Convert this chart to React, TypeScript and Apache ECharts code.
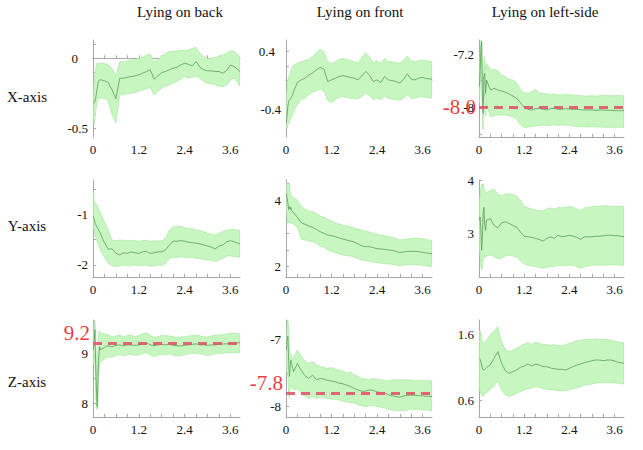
import React, { useEffect, useRef } from "react";
import * as echarts from "echarts";

// Shared time grid (s); dense at the start where the signals settle
const T = [0.01, 0.03, 0.05, 0.07, 0.09, 0.11, 0.13, 0.15, 0.175, 0.2,
  0.3, 0.4, 0.5, 0.6, 0.7, 0.8, 0.9, 1.0,
  1.1, 1.2, 1.3, 1.4, 1.5, 1.6, 1.7, 1.8, 1.9, 2.0,
  2.1, 2.2, 2.3, 2.4, 2.5, 2.6, 2.7, 2.8, 2.9, 3.0,
  3.1, 3.2, 3.3, 3.4, 3.5, 3.6, 3.7, 3.85];

const COLUMN_TITLES = ["Lying on back", "Lying on front", "Lying on left-side"];
const ROW_TITLES = ["X-axis", "Y-axis", "Z-axis"];
const X_LABELS = [0, 1.2, 2.4, 3.6];
const X_TICKS = [0, 0.3, 0.6, 0.9, 1.2, 1.5, 1.8, 2.1, 2.4, 2.7, 3.0, 3.3, 3.6];

// X-axis, lying on back
const backX_mean = [-0.32, -0.32, -0.31, -0.286, -0.25, -0.214, -0.18, -0.16, -0.155, -0.155,
  -0.16, -0.174, -0.226, -0.29, -0.143, -0.143, -0.136, -0.131,
  -0.126, -0.119, -0.107, -0.095, -0.083, -0.15, -0.126, -0.102, -0.095, -0.083,
  -0.071, -0.064, -0.048, -0.036, -0.043, -0.055, -0.024, -0.064, -0.083, -0.09,
  -0.09, -0.095, -0.095, -0.107, -0.088, -0.048, -0.06, -0.095];
const backX_hi = [-0.25, -0.155, -0.107, -0.071, -0.048, -0.036, -0.036, -0.036, -0.036, -0.036,
  -0.036, -0.048, -0.071, -0.131, -0.024, -0.024, -0.017, -0.012,
  -0.007, 0, 0.007, 0.024, 0.031, -0.024, -0.012, 0.017, 0.036, 0.048,
  0.048, 0.052, 0.06, 0.055, 0.06, 0.071, 0.079, 0.036, 0.012, 0,
  0, 0.007, 0.012, 0.024, 0.036, 0.055, 0.048, 0.012];
const backX_lo = [-0.44, -0.476, -0.44, -0.38, -0.345, -0.31, -0.298, -0.286, -0.286, -0.286,
  -0.286, -0.31, -0.405, -0.464, -0.262, -0.262, -0.255, -0.25,
  -0.245, -0.238, -0.226, -0.22, -0.207, -0.262, -0.238, -0.214, -0.202, -0.19,
  -0.179, -0.167, -0.15, -0.131, -0.143, -0.136, -0.131, -0.143, -0.167, -0.179,
  -0.183, -0.19, -0.202, -0.202, -0.19, -0.155, -0.143, -0.202];

// X-axis, lying on front
const frontX_mean = [-0.595, -0.48, -0.364, -0.29, -0.28, -0.26, -0.25, -0.225, -0.2, -0.156,
  -0.03, 0.006, 0.03, 0.076, 0.1, 0.145, 0.18, 0.155,
  -0.017, 0.006, 0.03, 0.053, 0.067, 0.053, 0.04, 0.03, 0.006, 0.062,
  0.122, 0.076, -0.017, 0.006, -0.03, 0.053, 0.006, -0.003, -0.017, -0.04,
  0.016, 0.09, 0.016, 0.006, 0.03, 0.04, 0.025, 0.016];
const frontX_hi = [-0.225, -0.11, 0.006, 0.053, 0.076, 0.1, 0.145, 0.169, 0.192, 0.215,
  0.238, 0.26, 0.275, 0.293, 0.33, 0.386, 0.432, 0.4,
  0.26, 0.238, 0.26, 0.293, 0.307, 0.293, 0.275, 0.26, 0.238, 0.32,
  0.386, 0.33, 0.247, 0.275, 0.238, 0.307, 0.26, 0.26, 0.247, 0.238,
  0.284, 0.34, 0.275, 0.26, 0.275, 0.284, 0.275, 0.26];
const frontX_lo = [-0.69, -0.665, -0.62, -0.595, -0.57, -0.55, -0.526, -0.5, -0.48, -0.433,
  -0.34, -0.27, -0.25, -0.2, -0.17, -0.146, -0.123, -0.156,
  -0.28, -0.308, -0.27, -0.24, -0.225, -0.24, -0.25, -0.253, -0.262, -0.225,
  -0.18, -0.216, -0.27, -0.25, -0.27, -0.225, -0.25, -0.262, -0.27, -0.28,
  -0.25, -0.2, -0.25, -0.25, -0.234, -0.225, -0.24, -0.25];

// X-axis, lying on left side
const leftX_mean = [-7.69, -7.44, -7.14, -7.015, -7.84, -8.09, -7.54, -7.49, -7.79, -7.59,
  -7.74, -7.715, -7.74, -7.755, -7.775, -7.8, -7.83, -7.865,
  -7.93, -8.0, -8.03, -8.04, -8.02, -8.015, -8.03, -8.04, -8.02, -8.015,
  -8.03, -8.03, -8.02, -8.025, -8.03, -8.03, -8.035, -8.04, -8.04, -8.04,
  -8.045, -8.04, -8.04, -8.045, -8.045, -8.05, -8.05, -8.05];
const leftX_hi = [-7.49, -7.19, -6.99, -6.965, -7.44, -7.59, -7.29, -7.24, -7.44, -7.34,
  -7.43, -7.43, -7.45, -7.515, -7.54, -7.58, -7.59, -7.63,
  -7.73, -7.78, -7.79, -7.765, -7.73, -7.78, -7.79, -7.8, -7.805, -7.8,
  -7.815, -7.815, -7.805, -7.81, -7.82, -7.82, -7.825, -7.83, -7.83, -7.825,
  -7.83, -7.825, -7.82, -7.825, -7.825, -7.825, -7.82, -7.83];
const leftX_lo = [-7.94, -7.74, -7.39, -7.29, -8.24, -8.34, -7.89, -7.79, -8.14, -7.94,
  -8.14, -8.13, -8.115, -8.115, -8.115, -8.13, -8.15, -8.18,
  -8.265, -8.3, -8.3, -8.29, -8.28, -8.275, -8.265, -8.275, -8.27, -8.265,
  -8.27, -8.27, -8.265, -8.27, -8.28, -8.29, -8.29, -8.29, -8.295, -8.29,
  -8.295, -8.295, -8.3, -8.3, -8.3, -8.3, -8.3, -8.3];

// Y-axis, lying on back
const backY_mean = [-1.046, -1.1, -1.16, -1.2, -1.23, -1.26, -1.28, -1.31, -1.35, -1.39,
  -1.56, -1.69, -1.68, -1.77, -1.8, -1.76, -1.77, -1.74,
  -1.76, -1.77, -1.74, -1.73, -1.77, -1.76, -1.74, -1.74, -1.7, -1.605,
  -1.53, -1.53, -1.52, -1.53, -1.55, -1.56, -1.57, -1.585, -1.605, -1.625,
  -1.65, -1.68, -1.625, -1.605, -1.54, -1.52, -1.54, -1.585];
const backY_hi = [-0.55, -0.72, -0.77, -0.78, -0.8, -0.835, -0.86, -0.9, -0.94, -0.98,
  -1.145, -1.31, -1.51, -1.52, -1.51, -1.51, -1.52, -1.51,
  -1.52, -1.53, -1.52, -1.51, -1.53, -1.52, -1.525, -1.52, -1.47, -1.31,
  -1.24, -1.24, -1.24, -1.26, -1.28, -1.28, -1.31, -1.32, -1.34, -1.375,
  -1.39, -1.41, -1.375, -1.34, -1.31, -1.3, -1.3, -1.32];
const backY_lo = [-1.28, -1.34, -1.41, -1.45, -1.51, -1.54, -1.585, -1.625, -1.67, -1.72,
  -1.85, -1.97, -2.01, -2.03, -2.02, -2.0, -2.01, -2.01,
  -2.0, -2.02, -2.01, -2.0, -2.03, -2.02, -2.0, -2.01, -1.97, -1.87,
  -1.85, -1.85, -1.835, -1.85, -1.85, -1.855, -1.87, -1.875, -1.89, -1.9,
  -1.91, -1.93, -1.9, -1.87, -1.82, -1.82, -1.835, -1.85];

// Y-axis, lying on front
const frontY_mean = [4.2, 4.05, 3.9, 3.72, 3.8, 3.72, 3.78, 3.68, 3.65, 3.62,
  3.48, 3.32, 3.27, 3.22, 3.18, 3.12, 3.05, 3.0,
  2.95, 2.93, 2.9, 2.86, 2.83, 2.8, 2.77, 2.74, 2.68, 2.62,
  2.6, 2.6, 2.57, 2.54, 2.53, 2.52, 2.5, 2.49, 2.46, 2.42,
  2.44, 2.46, 2.46, 2.46, 2.45, 2.43, 2.41, 2.39];
const frontY_hi = [4.55, 4.5, 4.35, 4.45, 4.5, 4.25, 4.15, 4.12, 4.1, 4.07,
  4.0, 3.82, 3.72, 3.68, 3.65, 3.6, 3.52, 3.48,
  3.42, 3.38, 3.32, 3.28, 3.25, 3.22, 3.2, 3.16, 3.12, 3.1,
  3.07, 3.04, 3.0, 2.97, 2.95, 2.93, 2.9, 2.88, 2.85, 2.8,
  2.82, 2.84, 2.84, 2.85, 2.85, 2.84, 2.82, 2.78];
const frontY_lo = [3.7, 3.4, 3.3, 3.32, 3.35, 3.3, 3.3, 3.3, 3.28, 3.28,
  3.18, 2.82, 2.8, 2.78, 2.75, 2.7, 2.62, 2.58,
  2.5, 2.46, 2.42, 2.38, 2.35, 2.33, 2.32, 2.28, 2.24, 2.2,
  2.18, 2.16, 2.14, 2.12, 2.1, 2.09, 2.08, 2.07, 2.05, 2.02,
  2.04, 2.06, 2.06, 2.06, 2.05, 2.04, 2.02, 2.0];

// Y-axis, lying on left side
const leftY_mean = [3.25, 3.31, 3.06, 2.69, 2.94, 3.37, 3.49, 3.19, 3.06, 3.25,
  3.28, 3.15, 3.11, 3.2, 3.22, 3.19, 3.15, 3.12,
  3.03, 2.95, 2.94, 2.93, 2.91, 2.89, 2.86, 2.91, 2.94, 2.91,
  2.97, 2.94, 2.95, 2.97, 2.95, 2.93, 2.89, 2.94, 2.94, 2.94,
  2.95, 2.95, 2.96, 2.97, 2.97, 2.96, 2.96, 2.94];
const leftY_hi = [3.62, 3.74, 3.86, 3.93, 3.9, 3.93, 3.86, 3.8, 3.79, 3.77,
  3.8, 3.83, 3.74, 3.71, 3.74, 3.74, 3.73, 3.7,
  3.62, 3.51, 3.48, 3.46, 3.44, 3.43, 3.42, 3.46, 3.48, 3.46,
  3.49, 3.48, 3.49, 3.51, 3.49, 3.46, 3.43, 3.48, 3.49, 3.51,
  3.51, 3.51, 3.52, 3.52, 3.51, 3.51, 3.51, 3.51];
const leftY_lo = [2.75, 2.57, 2.38, 2.32, 2.38, 2.51, 2.6, 2.56, 2.56, 2.58,
  2.6, 2.57, 2.53, 2.54, 2.58, 2.6, 2.58, 2.56,
  2.49, 2.43, 2.41, 2.4, 2.38, 2.37, 2.35, 2.37, 2.38, 2.38,
  2.41, 2.4, 2.41, 2.41, 2.41, 2.38, 2.35, 2.38, 2.4, 2.41,
  2.41, 2.41, 2.41, 2.41, 2.42, 2.42, 2.41, 2.41];

// Z-axis, lying on back
const backZ_mean = [9.07, 9.27, 9.47, 8.73, 8.27, 7.93, 8.53, 8.93, 9.13, 9.07,
  9.12, 9.15, 9.13, 9.16, 9.17, 9.15, 9.17, 9.17,
  9.16, 9.17, 9.18, 9.21, 9.17, 9.15, 9.17, 9.18, 9.17, 9.18,
  9.16, 9.15, 9.15, 9.16, 9.17, 9.18, 9.19, 9.17, 9.17, 9.16,
  9.17, 9.17, 9.18, 9.19, 9.19, 9.2, 9.21, 9.21];
const backZ_hi = [9.27, 9.6, 9.67, 9.47, 8.87, 8.53, 9.07, 9.4, 9.45, 9.41,
  9.39, 9.37, 9.33, 9.35, 9.36, 9.33, 9.36, 9.37,
  9.33, 9.36, 9.39, 9.41, 9.36, 9.32, 9.33, 9.36, 9.35, 9.35,
  9.33, 9.32, 9.33, 9.33, 9.35, 9.35, 9.36, 9.35, 9.33, 9.33,
  9.35, 9.36, 9.37, 9.37, 9.39, 9.4, 9.4, 9.39];
const backZ_lo = [8.8, 8.87, 9.0, 8.13, 7.9, 7.87, 8.0, 8.53, 8.77, 8.83,
  8.88, 8.93, 8.92, 8.96, 8.97, 8.95, 8.97, 8.98,
  8.96, 8.97, 8.99, 9.01, 8.97, 8.93, 8.96, 8.98, 8.97, 8.99,
  8.96, 8.95, 8.95, 8.97, 8.99, 9.0, 9.0, 8.99, 8.97, 8.96,
  8.97, 8.99, 9.0, 9.0, 9.01, 9.01, 9.01, 9.01];

// Z-axis, lying on front
const frontZ_mean = [-7.16, -6.99, -6.95, -7.31, -7.55, -7.38, -7.31, -7.36, -7.43, -7.48,
  -7.36, -7.46, -7.54, -7.58, -7.53, -7.6, -7.58, -7.59,
  -7.61, -7.62, -7.63, -7.65, -7.66, -7.68, -7.7, -7.73, -7.75, -7.77,
  -7.77, -7.75, -7.76, -7.78, -7.79, -7.8, -7.82, -7.84, -7.85, -7.86,
  -7.84, -7.83, -7.83, -7.83, -7.835, -7.84, -7.845, -7.85];
const frontZ_hi = [-7.06, -6.76, -6.71, -6.81, -7.11, -7.21, -7.23, -7.26, -7.3, -7.27,
  -7.16, -7.25, -7.32, -7.36, -7.33, -7.38, -7.4, -7.42,
  -7.43, -7.42, -7.44, -7.46, -7.47, -7.5, -7.48, -7.53, -7.55, -7.58,
  -7.59, -7.6, -7.58, -7.59, -7.6, -7.61, -7.61, -7.6, -7.6, -7.6,
  -7.6, -7.6, -7.605, -7.61, -7.61, -7.61, -7.61, -7.62];
const frontZ_lo = [-7.46, -7.5, -7.55, -7.8, -7.88, -7.75, -7.68, -7.7, -7.73, -7.75,
  -7.74, -7.79, -7.84, -7.88, -7.85, -7.88, -7.86, -7.87,
  -7.88, -7.89, -7.89, -7.9, -7.92, -7.93, -7.94, -7.95, -7.97, -7.99,
  -8.0, -7.99, -7.98, -8.0, -8.01, -8.02, -8.04, -8.05, -8.06, -8.06,
  -8.06, -8.05, -8.04, -8.04, -8.04, -8.05, -8.05, -8.06];

// Z-axis, lying on left side
const leftZ_mean = [1.21, 1.22, 1.185, 1.135, 1.085, 1.06, 1.06, 1.07, 1.085, 1.1,
  1.135, 1.235, 1.335, 1.16, 1.05, 1.01, 1.035, 1.06,
  1.1, 1.12, 1.15, 1.12, 1.15, 1.135, 1.11, 1.11, 1.09, 1.08,
  1.07, 1.07, 1.06, 1.085, 1.11, 1.135, 1.15, 1.17, 1.185, 1.2,
  1.21, 1.21, 1.2, 1.21, 1.21, 1.195, 1.175, 1.16];
const leftZ_hi = [1.66, 1.65, 1.61, 1.535, 1.485, 1.46, 1.46, 1.47, 1.485, 1.51,
  1.585, 1.65, 1.71, 1.485, 1.37, 1.335, 1.36, 1.385,
  1.42, 1.45, 1.47, 1.44, 1.48, 1.46, 1.44, 1.44, 1.435, 1.44,
  1.43, 1.42, 1.44, 1.46, 1.48, 1.5, 1.51, 1.52, 1.52, 1.52,
  1.525, 1.52, 1.52, 1.52, 1.51, 1.49, 1.48, 1.47];
const leftZ_lo = [0.76, 0.735, 0.71, 0.68, 0.66, 0.67, 0.685, 0.7, 0.71, 0.72,
  0.77, 0.82, 0.9, 0.76, 0.685, 0.66, 0.685, 0.71,
  0.735, 0.76, 0.78, 0.785, 0.81, 0.8, 0.78, 0.77, 0.76, 0.76,
  0.75, 0.75, 0.75, 0.76, 0.78, 0.79, 0.81, 0.83, 0.84, 0.85,
  0.86, 0.87, 0.87, 0.87, 0.87, 0.865, 0.86, 0.85];

// Panels in reading order (row by row)
const PANELS = [
  { mean: backX_mean, hi: backX_hi, lo: backX_lo, min: -0.564, max: 0.131,
    ticks: [0.1, 0, -0.1, -0.2, -0.3, -0.4, -0.5], labels: [0, -0.5], shift: { 0: 10 } },
  { mean: frontX_mean, hi: frontX_hi, lo: frontX_lo, min: -0.79, max: 0.562,
    ticks: [0.4, 0.2, 0, -0.2, -0.4, -0.6], labels: [0.4, -0.4], shift: { 0.4: 6 } },
  { mean: leftX_mean, hi: leftX_hi, lo: leftX_lo, min: -8.445, max: -6.99,
    ticks: [-7.2, -7.6, -8.0, -8.4], labels: [-7.2, -8], shift: {} },
  { mean: backY_mean, hi: backY_hi, lo: backY_lo, min: -2.237, max: -0.322,
    ticks: [-0.5, -1, -1.5, -2], labels: [-1, -2], shift: {} },
  { mean: frontY_mean, hi: frontY_hi, lo: frontY_lo, min: 1.69, max: 4.6,
    ticks: [2, 2.5, 3, 3.5, 4, 4.5], labels: [2, 4], shift: {} },
  { mean: leftY_mean, hi: leftY_hi, lo: leftY_lo, min: 2.19, max: 4.0,
    ticks: [2.5, 3, 3.5, 4], labels: [3, 4], shift: {} },
  { mean: backZ_mean, hi: backZ_hi, lo: backZ_lo, min: 7.727, max: 9.667,
    ticks: [8, 8.5, 9, 9.5], labels: [8, 9], shift: {} },
  { mean: frontZ_mean, hi: frontZ_hi, lo: frontZ_lo, min: -8.153, max: -6.713,
    ticks: [-7, -7.5, -8], labels: [-7, -8], shift: {} },
  { mean: leftZ_mean, hi: leftZ_hi, lo: leftZ_lo, min: 0.355, max: 1.81,
    ticks: [0.6, 1.1, 1.6], labels: [0.6, 1.6], shift: {} },
];

// Reference levels drawn as red dashed lines
const REF_LINES = [
  { panel: 2, value: -8.0, text: "-8.0", above: false },
  { panel: 6, value: 9.2, text: "9.2", above: true },
  { panel: 7, value: -7.8, text: "-7.8", above: true },
];

const FONT = "'Liberation Serif', 'DejaVu Serif', serif";
const COL_LEFT = [93, 286, 479];
const COL_WIDTH = [147, 146, 145];
const ROW_TOP = [40, 180, 320];
const PLOT_HEIGHT = 97;
const X_MAX = 3.85;

const BAND_FILL = "#c7f6c1";
const BAND_EDGE = "#a3e69a";
const MEAN_COLOR = "#5c9c5a";
const AXIS_COLOR = "#a8a8a8";
const RED_LINE = "#e0566b";
const RED_TEXT = "#ea1f27";

function fmt(v: number) {
  return String(Math.round(v * 1000) / 1000);
}

// Draws the whole confidence band of one panel as a single polygon
function renderBand(params: any, api: any) {
  if (params.dataIndexInside !== 0) return null;
  const n = params.dataInsideLength;
  const upper: number[][] = [];
  const lower: number[][] = [];
  for (let k = 0; k < n; k++) {
    const t = api.value(0, k);
    upper.push(api.coord([t, api.value(2, k)]));
    lower.push(api.coord([t, api.value(1, k)]));
  }
  const cs = params.coordSys;
  return {
    type: "polygon",
    shape: { points: upper.concat(lower.reverse()) },
    style: { fill: BAND_FILL, stroke: BAND_EDGE, lineWidth: 0.6 },
    clipPath: { type: "rect", shape: { x: cs.x, y: cs.y, width: cs.width, height: cs.height } },
    silent: true,
  };
}

function buildOption() {
  const grid: any[] = [];
  const xAxis: any[] = [];
  const yAxis: any[] = [];
  const series: any[] = [];

  PANELS.forEach((p, i) => {
    const r = Math.floor(i / 3);
    const c = i % 3;
    grid.push({ left: COL_LEFT[c], top: ROW_TOP[r], width: COL_WIDTH[c], height: PLOT_HEIGHT });

    xAxis.push({
      gridIndex: i, type: "value", min: 0, max: X_MAX,
      axisLine: { show: true, lineStyle: { color: AXIS_COLOR, width: 1 } },
      axisTick: { show: true, inside: true, length: 3, customValues: X_TICKS, lineStyle: { color: AXIS_COLOR } },
      axisLabel: { customValues: X_LABELS, formatter: fmt, color: "#111", fontFamily: FONT, fontSize: 13, margin: 6 },
      splitLine: { show: false },
    });

    const shift: any = p.shift;
    yAxis.push({
      gridIndex: i, type: "value", min: p.min, max: p.max,
      axisLine: { show: true, lineStyle: { color: AXIS_COLOR, width: 1 } },
      axisTick: { show: true, inside: true, length: 3, customValues: p.ticks, lineStyle: { color: AXIS_COLOR } },
      axisLabel: {
        customValues: p.labels, color: "#111", fontFamily: FONT, fontSize: 13, margin: 5,
        formatter: (v: number) => {
          const s = fmt(v);
          return shift[s] !== undefined ? `{s${shift[s]}|${s}}` : s;
        },
        rich: {
          s10: { padding: [0, 10, 0, 0], color: "#111", fontFamily: FONT, fontSize: 13 },
          s6: { padding: [0, 6, 0, 0], color: "#111", fontFamily: FONT, fontSize: 13 },
        },
      },
      splitLine: { show: false },
    });

    series.push({
      type: "custom", xAxisIndex: i, yAxisIndex: i, silent: true, z: 1,
      renderItem: renderBand,
      encode: { x: 0, y: [1, 2] },
      data: T.map((t, k) => [t, p.lo[k], p.hi[k]]),
    });

    const ref = REF_LINES.find((d) => d.panel === i);
    const meanSeries: any = {
      type: "line", xAxisIndex: i, yAxisIndex: i,
      data: T.map((t, k) => [t, p.mean[k]]),
      symbol: "none", silent: true, z: 3,
      lineStyle: { color: MEAN_COLOR, width: 0.8 },
    };
    if (ref) {
      meanSeries.markLine = {
        silent: true, symbol: ["none", "none"],
        data: [{ yAxis: ref.value }],
        lineStyle: { color: RED_LINE, width: 3, type: [9, 6], opacity: 0.9 },
        label: {
          show: true, position: "start", formatter: ref.text, distance: 3,
          color: RED_TEXT, fontFamily: FONT, fontSize: 21,
          verticalAlign: ref.above ? "bottom" : "middle",
        },
      };
    }
    series.push(meanSeries);
  });

  const graphic: any[] = [];
  const colCenters = [180, 360, 545];
  COLUMN_TITLES.forEach((t, c) => {
    graphic.push({
      type: "text", x: colCenters[c], y: 12,
      style: { text: t, font: `15px ${FONT}`, fill: "#111", textAlign: "center", textVerticalAlign: "middle" },
    });
  });
  const rowCenters = [97, 226, 382];
  ROW_TITLES.forEach((t, r) => {
    graphic.push({
      type: "text", x: 27, y: rowCenters[r],
      style: { text: t, font: `15px ${FONT}`, fill: "#111", textAlign: "center", textVerticalAlign: "middle" },
    });
  });

  return { animation: false, backgroundColor: "#fff", grid, xAxis, yAxis, series, graphic };
}

export default function App() {
  const ref = useRef<HTMLDivElement>(null);
  useEffect(() => {
    if (!ref.current) return;
    const chart = echarts.init(ref.current, null, { renderer: "svg" });
    chart.setOption(buildOption());
    return () => chart.dispose();
  }, []);
  return (
    <div
      ref={ref}
      style={{ position: "absolute", left: 0, top: 0, width: 643, height: 450, background: "#fff" }}
    />
  );
}
